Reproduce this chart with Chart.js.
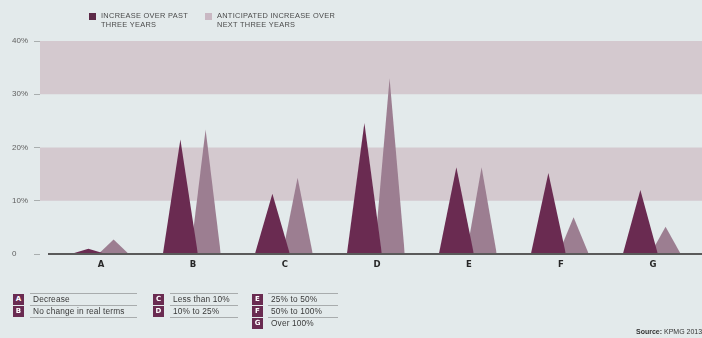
<!DOCTYPE html>
<html>
<head>
<meta charset="utf-8">
<script src="https://cdn.jsdelivr.net/npm/chart.js@4.4.1/dist/chart.umd.min.js"></script>
<style>
  html, body { margin: 0; padding: 0; background: #e3eaeb; }
  #wrap {
    position: relative; width: 702px; height: 338px; overflow: hidden;
    font-family: "Liberation Sans", Arial, sans-serif;
    color: #3a3a3a;
  }
  #wrap canvas { position: absolute; left: 0; top: 0; }
  .leg { position: absolute; top: 11px; font-size: 7.4px; line-height: 9px; letter-spacing: 0.3px; text-transform: uppercase; color: #4a4a4a; white-space: nowrap; }
  .leg i { position: absolute; left: -12px; top: 2px; width: 7px; height: 7px; }
  .key-box { position: absolute; width: 11px; height: 11px; background: #6a2b51; color: #fff;
    font: bold 7px "DejaVu Sans", sans-serif; line-height: 11px; text-align: center; }
  .key-txt { position: absolute; height: 11px; border-top: 1px solid #a8acad; font-size: 8.3px; line-height: 11px;
    letter-spacing: 0.15px; padding-left: 3px; box-sizing: content-box; color: #3a3a3a; white-space: nowrap; }
  .key-txt.last { border-bottom: 1px solid #a8acad; }
  .source { position: absolute; left: 636px; top: 327px; font-size: 7px; line-height: 9px; color: #333; white-space: nowrap; }
</style>
</head>
<body>
<div id="wrap">
  <canvas id="chart" width="702" height="338"></canvas>
  <div id="legend"></div>
  <div id="key"></div>
  <div class="source"><b>Source:</b> KPMG 2013</div>
</div>
<script>
// Growth categories (x axis) and the two series, in percent of respondents
const categories = ['A', 'B', 'C', 'D', 'E', 'F', 'G'];
const categoryNames = ['Decrease', 'No change in real terms', 'Less than 10%', '10% to 25%', '25% to 50%', '50% to 100%', 'Over 100%'];
const pastIncrease = [1, 21.5, 11.3, 24.6, 16.3, 15.2, 12];
const anticipatedIncrease = [2.7, 23.4, 14.3, 33, 16.3, 6.9, 5.1];
const seriesNames = ['Increase over past three years', 'Anticipated increase over next three years'];
const yTickValues = [0, 10, 20, 30, 40];
const shadedBands = [[10, 20], [30, 40]];

const DARK = '#6a2b51';
const LIGHT = '#9c7e91';
const BAND = '#d4c9cf';

// Each value becomes a spike: base on the axis either side, peak at the value
function spike(center, value, halfWidth) {
  return [
    { x: center - halfWidth, y: 0 },
    { x: center, y: value },
    { x: center + halfWidth, y: 0 }
  ];
}

const datasets = [];
// first datasets are painted last, so the past series sits in front
pastIncrease.forEach((v, i) => datasets.push({
  data: spike(i - 0.137, v, 0.19), backgroundColor: DARK, borderWidth: 0, fill: 'origin', pointRadius: 0
}));
anticipatedIncrease.forEach((v, i) => datasets.push({
  data: spike(i + 0.137, v, 0.165), backgroundColor: LIGHT, borderWidth: 0, fill: 'origin', pointRadius: 0
}));

const bandsPlugin = {
  id: 'bands',
  beforeDatasetsDraw(chart) {
    const { ctx, chartArea, scales } = chart;
    ctx.save();
    ctx.fillStyle = BAND;
    shadedBands.forEach(([lo, hi]) => {
      const top = scales.y.getPixelForValue(hi);
      const bottom = scales.y.getPixelForValue(lo);
      ctx.fillRect(chartArea.left, top, chartArea.right - chartArea.left, bottom - top);
    });
    ctx.restore();
  },
  afterDatasetsDraw(chart) {
    const { ctx, chartArea, scales } = chart;
    const y = scales.y.getPixelForValue(0);
    ctx.save();
    ctx.strokeStyle = '#5a5a5a';
    ctx.lineWidth = 2;
    ctx.beginPath();
    ctx.moveTo(chartArea.left + 8, y);
    ctx.lineTo(chartArea.right, y);
    ctx.stroke();
    ctx.restore();
  }
};

new Chart(document.getElementById('chart'), {
  type: 'line',
  data: { datasets },
  plugins: [bandsPlugin],
  options: {
    responsive: false,
    animation: false,
    layout: { padding: { left: 12, top: 41, right: 0, bottom: 0 } },
    plugins: { legend: { display: false }, tooltip: { enabled: false } },
    elements: { line: { tension: 0 } },
    scales: {
      x: {
        type: 'linear',
        min: -0.663,
        max: 6.533,
        afterBuildTicks: (s) => { s.ticks = categories.map((c, i) => ({ value: i })); },
        afterFit: (s) => { s.height = 84; },
        grid: { display: false, drawTicks: false },
        border: { display: false },
        ticks: {
          padding: 6,
          autoSkip: false,
          maxRotation: 0,
          color: '#262626',
          font: { family: 'DejaVu Sans', size: 8.5, weight: 'bold' },
          callback: (v) => categories[v]
        }
      },
      y: {
        min: 0,
        max: 40,
        afterBuildTicks: (s) => { s.ticks = yTickValues.map(v => ({ value: v })); },
        afterFit: (s) => { s.width = 28; },
        grid: { drawOnChartArea: false, drawTicks: true, tickLength: 6, color: '#a9aeae' },
        border: { display: false },
        ticks: {
          crossAlign: 'far',
          padding: 4,
          color: '#606060',
          font: { family: 'Liberation Sans, Arial, sans-serif', size: 8 },
          callback: (v) => v === 0 ? '0' : v + '%'
        }
      }
    }
  }
});

// Series legend above the plot
const legend = document.getElementById('legend');
[[seriesNames[0], '#5c2a47', 101, 'Increase over past<br>three years'],
 [seriesNames[1], '#c9b8c3', 217, 'Anticipated increase over<br>next three years']].forEach(([name, color, left, html]) => {
  const d = document.createElement('div');
  d.className = 'leg';
  d.style.left = left + 'px';
  d.title = name;
  d.innerHTML = '<i style="background:' + color + '"></i>' + html;
  legend.appendChild(d);
});

// Category key below the plot, three columns
const key = document.getElementById('key');
const columns = [
  { box: 13, text: 30, width: 104, items: [0, 1] },
  { box: 153, text: 170, width: 65, items: [2, 3] },
  { box: 252, text: 268, width: 67, items: [4, 5, 6] }
];
columns.forEach(col => {
  col.items.forEach((idx, row) => {
    const top = 293 + row * 12;
    const b = document.createElement('div');
    b.className = 'key-box';
    b.style.left = col.box + 'px';
    b.style.top = (top + 1) + 'px';
    b.textContent = categories[idx];
    key.appendChild(b);
    const t = document.createElement('div');
    t.className = 'key-txt' + (row === 1 && col.items.length === 2 ? ' last' : '');
    t.style.left = col.text + 'px';
    t.style.top = top + 'px';
    t.style.width = col.width + 'px';
    t.textContent = categoryNames[idx];
    key.appendChild(t);
  });
});
</script>
</body>
</html>
